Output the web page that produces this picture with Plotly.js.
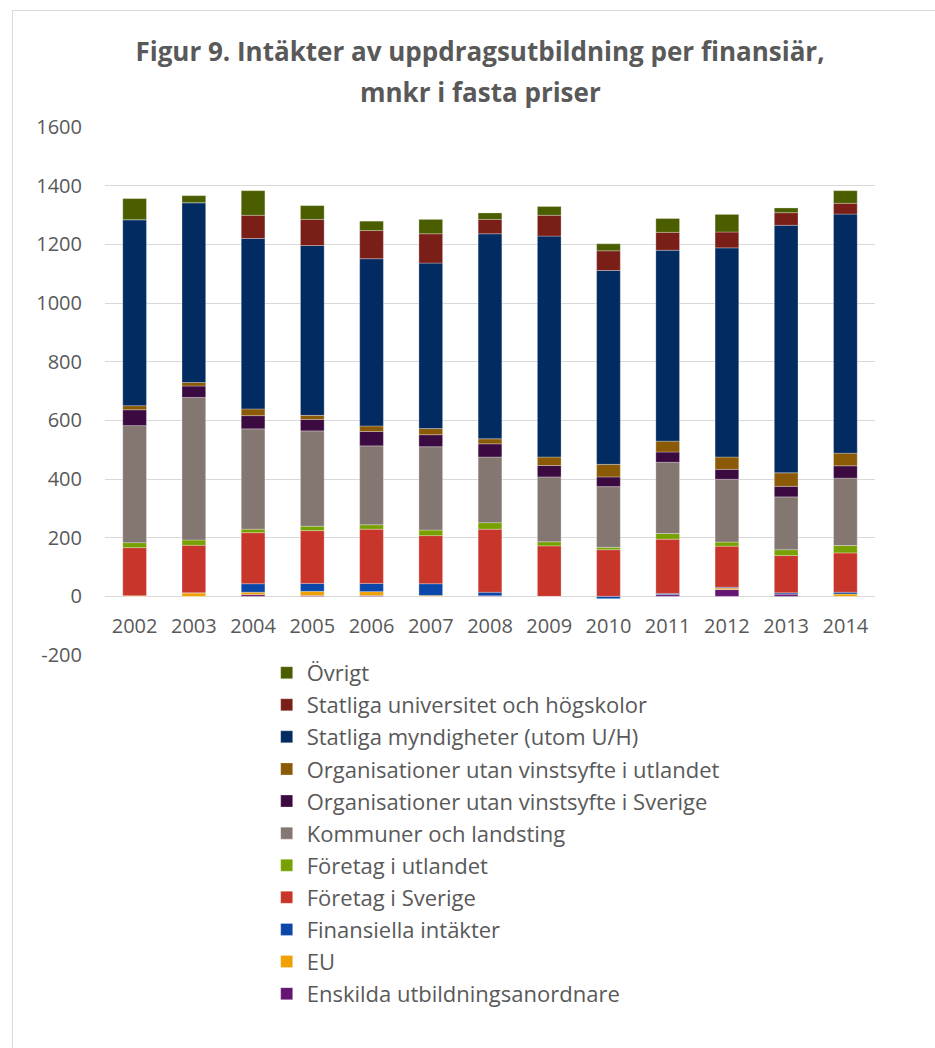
<!DOCTYPE html>
<html>
<head>
<meta charset="utf-8">
<script src="https://cdn.plot.ly/plotly-3.0.1.min.js"></script>
<style>
  html, body { margin: 0; padding: 0; background: #fff; }
  #frame { position: absolute; left: 12px; top: 10px; width: 940px; height: 1060px; border: 1px solid #d9d9d9; box-sizing: border-box; }
  #chart { position: absolute; left: 0; top: 0; width: 935px; height: 1048px; }
</style>
</head>
<body>
<div id="frame"></div>
<div id="chart"></div>
<script>
const years = ['2002','2003','2004','2005','2006','2007','2008','2009','2010','2011','2012','2013','2014'];

const enskilda      = [0, 0, 6, 3, 3, 0, 2, 0, 0, 6, 23, 8, 0];
const eu            = [2, 12, 8, 14, 13, 3, 0, 0, 0, 0, 5, 0, 8];
const finansiella   = [0, 0, 29, 27, 28, 40, 12, 0, -8, 4, 3, 4, 6];
const foretagSv     = [164, 162, 174, 180, 185, 164, 215, 172, 159, 185, 140, 127, 134];
const foretagUtl    = [17, 18, 12, 15, 15, 19, 22, 14, 8, 19, 14, 20, 25];
const kommuner      = [399, 486, 342, 325, 269, 284, 224, 221, 207, 243, 214, 180, 230];
const orgSverige    = [54, 39, 45, 39, 49, 41, 45, 39, 33, 35, 34, 36, 42];
const orgUtland     = [14, 12, 23, 14, 19, 21, 17, 29, 43, 37, 42, 46, 43];
const statMynd      = [634, 613, 581, 579, 570, 564, 699, 753, 661, 651, 713, 844, 815];
const statUniv      = [0, 0, 79, 89, 96, 100, 49, 71, 67, 61, 54, 43, 37];
const ovrigt        = [72, 24, 84, 47, 32, 49, 22, 30, 24, 47, 60, 16, 43];

const yTickVals = [-200, 0, 200, 400, 600, 800, 1000, 1200, 1400, 1600];
const yTickText = ['-200', '0', '200', '400', '600', '800', '1000', '1200', '1400', '1600'];

const seriesNames = [
  'Enskilda utbildningsanordnare',
  'EU',
  'Finansiella intäkter',
  'Företag i Sverige',
  'Företag i utlandet',
  'Kommuner och landsting',
  'Organisationer utan vinstsyfte i Sverige',
  'Organisationer utan vinstsyfte i utlandet',
  'Statliga myndigheter (utom U/H)',
  'Statliga universitet och högskolor',
  'Övrigt'
];
const seriesValues = [enskilda, eu, finansiella, foretagSv, foretagUtl, kommuner, orgSverige, orgUtland, statMynd, statUniv, ovrigt];
const seriesColors = ['#641672', '#f0a000', '#0a47a8', '#c8352a', '#77a100', '#847772', '#3b0a40', '#8a5a06', '#022b62', '#7a1f17', '#4a5e00'];

const traces = seriesNames.map((n, i) => ({
  type: 'bar',
  name: n,
  x: years,
  y: seriesValues[i],
  legendgroup: 'g' + i,
  legendrank: (seriesNames.length - i) * 10,
  marker: { color: seriesColors[i], line: { color: 'rgba(255,255,255,0.35)', width: 0.8 } },
  hoverinfo: 'x+y+name'
}));

const layout = {
  width: 935,
  height: 1048,
  paper_bgcolor: 'rgba(0,0,0,0)',
  plot_bgcolor: 'rgba(0,0,0,0)',
  barmode: 'relative',
  bargap: 0.6,
  font: { family: 'Open Sans, sans-serif', color: '#595959' },
  margin: { l: 105, r: 60, t: 127, b: 393, autoexpand: false },
  title: {
    text: '<b>Figur 9. Intäkter av uppdragsutbildning per finansiär,</b>',
    font: { size: 26, color: '#595959', family: 'Open Sans, sans-serif' },
    x: 480 / 935, xanchor: 'center',
    y: 1 - 52 / 1048, yanchor: 'middle'
  },
  annotations: [{
    text: '<b>mnkr i fasta priser</b>',
    xref: 'paper', yref: 'paper',
    x: (480 - 105) / 770, xanchor: 'center',
    y: (655 - 92) / 528, yanchor: 'middle',
    showarrow: false,
    font: { size: 26, color: '#595959', family: 'Open Sans, sans-serif' }
  }],
  xaxis: {
    type: 'category',
    anchor: 'free',
    position: 200 / 1800,
    showline: false,
    showgrid: false,
    ticks: '',
    ticklabelstandoff: 16,
    tickfont: { size: 20, color: '#595959' }
  },
  yaxis: {
    range: [-200, 1600],
    tickmode: 'array',
    tickvals: yTickVals,
    ticktext: yTickText,
    showgrid: true,
    gridcolor: '#d9d9d9',
    gridwidth: 1,
    zeroline: true,
    zerolinecolor: '#d9d9d9',
    zerolinewidth: 1,
    showline: false,
    ticks: '',
    ticklabelstandoff: 22,
    tickfont: { size: 20, color: '#595959' }
  },
  showlegend: true,
  legend: {
    traceorder: 'grouped',
    tracegroupgap: 0.5,
    orientation: 'v',
    x: 0.21, xanchor: 'left',
    y: 0.006, yanchor: 'top',
    font: { size: 22, color: '#595959' },
    bgcolor: 'rgba(0,0,0,0)'
  }
};

Plotly.newPlot('chart', traces, layout, { displayModeBar: false, staticPlot: true });
</script>
</body>
</html>
